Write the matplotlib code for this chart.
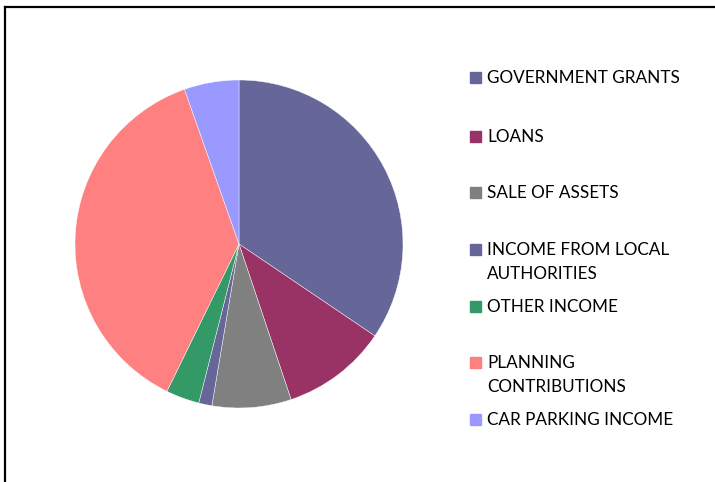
import matplotlib.pyplot as plt
from matplotlib.patches import Rectangle
from matplotlib.lines import Line2D

categories = ["GOVERNMENT GRANTS", "LOANS", "SALE OF ASSETS",
              "INCOME FROM LOCAL\nAUTHORITIES", "OTHER INCOME",
              "PLANNING\nCONTRIBUTIONS", "CAR PARKING INCOME"]
shares = [34.5, 10.4, 7.8, 1.3, 3.3, 37.4, 5.4]
colors = ["#666699", "#993366", "#808080", "#666699", "#339966", "#FF8080", "#9999FF"]

W, H = 715, 482
fig = plt.figure(figsize=(W / 100, H / 100), dpi=100)

# pie centred at (239, 244) px, radius 164 px
cx, cy, r = 239, 244, 164
ax = fig.add_axes([(cx - r) / W, (H - cy - r) / H, 2 * r / W, 2 * r / H])
ax.pie(shares, colors=colors, startangle=90, counterclock=False,
       wedgeprops=dict(edgecolor="white", linewidth=0.3))
ax.set_xlim(-1, 1)
ax.set_ylim(-1, 1)
ax.set_aspect("equal")

# chart area border (top and left visible)
fig.add_artist(Line2D([5 / W, 1], [1 - 7 / H, 1 - 7 / H], color="black", lw=1.6))
fig.add_artist(Line2D([5 / W, 5 / W], [0, 1 - 7 / H], color="black", lw=1.6))

# legend
row_y = [77, 136, 192, 249, 306, 362, 419]
for label, col, y in zip(categories, colors, row_y):
    fig.add_artist(Rectangle((470 / W, 1 - (y + 6) / H), 11 / W, 11 / H,
                             transform=fig.transFigure, color=col))
    fig.text(487 / W, 1 - (y - 7) / H, label, fontsize=12.3, family="Lato",
             va="top", ha="left", linespacing=1.62)

fig.savefig("out.png", dpi=100)
